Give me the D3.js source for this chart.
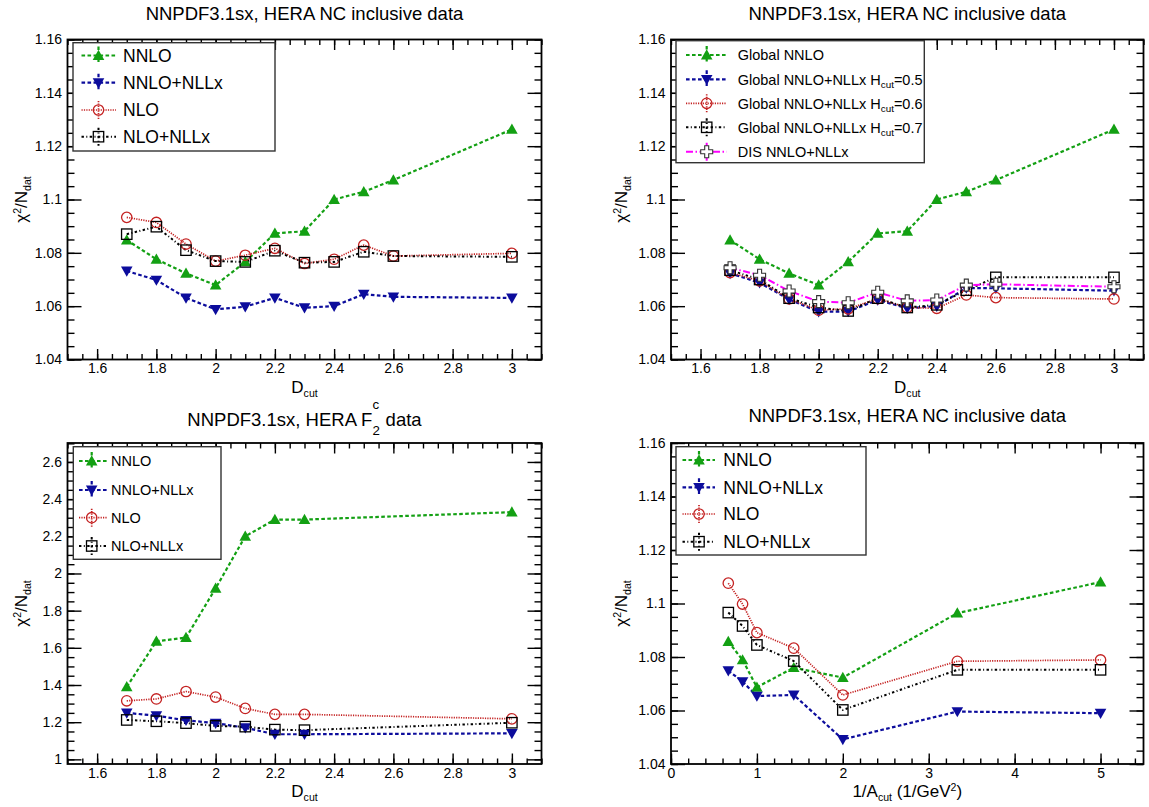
<!DOCTYPE html>
<html><head><meta charset="utf-8">
<script src="https://cdn.jsdelivr.net/npm/d3@7"></script>
<style>
body{margin:0;background:#fff}
svg{display:block}
text{font-family:"Liberation Sans",Arial,Helvetica,sans-serif;fill:#000}
</style>
</head><body>
<svg id="c" width="1149" height="807"></svg>
<script>
// ---------------- DATA ----------------
const dcut = [1.7, 1.8, 1.9, 2.0, 2.1, 2.2, 2.3, 2.4, 2.5, 2.6, 3.0];
// Panel 1: HERA NC inclusive
const ncNNLO     = [1.0848, 1.0776, 1.0723, 1.0679, 1.0766, 1.0873, 1.0881, 1.1000, 1.1029, 1.1073, 1.1263];
const ncNNLONLLx = [1.0732, 1.0698, 1.0631, 1.0588, 1.0598, 1.0631, 1.0594, 1.0600, 1.0645, 1.0635, 1.0631];
const ncNLO      = [1.0933, 1.0914, 1.0833, 1.0769, 1.0791, 1.0817, 1.0760, 1.0776, 1.0829, 1.0788, 1.0798];
const ncNLONLLx  = [1.0870, 1.0898, 1.0810, 1.0769, 1.0766, 1.0808, 1.0763, 1.0766, 1.0804, 1.0788, 1.0785];
// Panel 2: global fits
const globNNLO   = [1.0848, 1.0776, 1.0723, 1.0679, 1.0766, 1.0873, 1.0881, 1.1000, 1.1029, 1.1073, 1.1263];
const globH05    = [1.0723, 1.0688, 1.0625, 1.0579, 1.0580, 1.0623, 1.0592, 1.0600, 1.0668, 1.0667, 1.0658];
const globH06    = [1.0726, 1.0695, 1.0627, 1.0585, 1.0590, 1.0628, 1.0595, 1.0592, 1.0642, 1.0632, 1.0627];
const globH07    = [1.0735, 1.0700, 1.0630, 1.0595, 1.0582, 1.0630, 1.0595, 1.0605, 1.0660, 1.0708, 1.0708];
const disNNLONLLx= [1.0744, 1.0716, 1.0657, 1.0617, 1.0613, 1.0652, 1.0620, 1.0623, 1.0679, 1.0682, 1.0673];
// Panel 3: HERA F2c
const dcutCharm  = [1.7, 1.8, 1.9, 2.0, 2.1, 2.2, 2.3, 3.0];
const f2cNNLO    = [1.39, 1.635, 1.655, 1.92, 2.20, 2.29, 2.29, 2.33];
const f2cNNLONLLx= [1.25, 1.235, 1.21, 1.195, 1.17, 1.135, 1.135, 1.14];
const f2cNLO     = [1.315, 1.325, 1.365, 1.335, 1.274, 1.242, 1.242, 1.218];
const f2cNLONLLx = [1.212, 1.205, 1.195, 1.18, 1.176, 1.16, 1.157, 1.197];
// Panel 4: 1/A_cut
const invAcut    = [0.667, 0.833, 1.0, 1.429, 2.0, 3.333, 5.0];
const aNNLO      = [1.0858, 1.0789, 1.0687, 1.0760, 1.0723, 1.0964, 1.1080];
const aNNLONLLx  = [1.0749, 1.0708, 1.0654, 1.0658, 1.0492, 1.0596, 1.0590];
const aNLO       = [1.1076, 1.0998, 1.0891, 1.0833, 1.0658, 1.0784, 1.0789];
const aNLONLLx   = [1.0966, 1.0916, 1.0845, 1.0785, 1.0602, 1.0752, 1.0752];

// Tick values and labels
const ticksChi       = [1.04, 1.06, 1.08, 1.1, 1.12, 1.14, 1.16];
const labelsChi      = ["1.04", "1.06", "1.08", "1.1", "1.12", "1.14", "1.16"];
const ticksChiCharm  = [1, 1.2, 1.4, 1.6, 1.8, 2, 2.2, 2.4, 2.6];
const labelsChiCharm = ["1", "1.2", "1.4", "1.6", "1.8", "2", "2.2", "2.4", "2.6"];
const ticksDcut      = [1.6, 1.8, 2, 2.2, 2.4, 2.6, 2.8, 3];
const labelsDcut     = ["1.6", "1.8", "2", "2.2", "2.4", "2.6", "2.8", "3"];
const ticksInvA      = [0, 1, 2, 3, 4, 5];
const labelsInvA     = ["0", "1", "2", "3", "4", "5"];

// ---------------- STYLES ----------------
const STY = {
  nnlo:     {color: "#13a013", dash: "3.6,2.4", w: 2.2, marker: "triUp"},
  nnloNLLx: {color: "#0c0c9c", dash: "3.6,2.4", w: 2.2, marker: "triDown"},
  nlo:      {color: "#c42222", dash: "1.2,1.2", w: 1.7, marker: "circle"},
  nloNLLx:  {color: "#000000", dash: "2.4,2.4,1,2.4", w: 2, marker: "square"},
  dis:      {color: "#ff00ff", dash: "7,2.5,1.5,2.5", w: 2, marker: "cross", mcolor: "#333"}
};

const svg = d3.select("#c");

function rich(text, parts, fs) {
  let off = 0;
  parts.forEach(p => {
    let target = 0, size = fs;
    if (p.sub) { target = p.y !== undefined ? p.y : 0.25 * fs; size = (p.scale || 0.62) * fs; }
    if (p.sup) { target = p.y !== undefined ? p.y : -0.42 * fs; size = (p.scale || 0.62) * fs; }
    const ts = text.append("tspan").text(p.t);
    if (target - off !== 0) ts.attr("dy", target - off);
    if (size !== fs) ts.attr("font-size", size);
    if (p.dx !== undefined) ts.attr("dx", p.dx);
    off = target;
  });
}

function marker(g, type, cx, cy, color) {
  if (type === "triUp") {
    g.append("path").attr("d", `M${cx-5.8},${cy+4.4}L${cx+5.8},${cy+4.4}L${cx},${cy-5.8}Z`).attr("fill", color);
  } else if (type === "triDown") {
    g.append("path").attr("d", `M${cx-5.8},${cy-4.4}L${cx+5.8},${cy-4.4}L${cx},${cy+5.8}Z`).attr("fill", color);
  } else if (type === "circle") {
    g.append("circle").attr("cx", cx).attr("cy", cy).attr("r", 5.2).attr("fill", "none").attr("stroke", color).attr("stroke-width", 1.3);
  } else if (type === "square") {
    g.append("rect").attr("x", cx-5.2).attr("y", cy-5.2).attr("width", 10.4).attr("height", 10.4).attr("fill", "none").attr("stroke", color).attr("stroke-width", 1.3);
  } else if (type === "cross") {
    const a = 2, e = 6;
    g.append("path").attr("d",
      `M${cx-a},${cy-e}L${cx+a},${cy-e}L${cx+a},${cy-a}L${cx+e},${cy-a}L${cx+e},${cy+a}L${cx+a},${cy+a}L${cx+a},${cy+e}L${cx-a},${cy+e}L${cx-a},${cy+a}L${cx-e},${cy+a}L${cx-e},${cy-a}L${cx-a},${cy-a}Z`)
      .attr("fill", "#fff").attr("stroke", color).attr("stroke-width", 1.1);
  }
}

function minorTicks(dom, step) {
  const lo = Math.ceil(dom[0] / step - 1e-9), hi = Math.floor(dom[1] / step + 1e-9);
  return d3.range(lo, hi + 1).map(k => +(k * step).toFixed(6));
}

function styleAxis(sel) {
  sel.select(".domain").remove();
  sel.selectAll(".tick line").attr("stroke", "#000").attr("stroke-width", 1.4);
  sel.selectAll(".tick text").attr("font-size", 14).attr("fill", "#000")
     .attr("font-family", "Liberation Sans, Arial, sans-serif");
}

function drawPanel(c) {
  const x = d3.scaleLinear().domain(c.xDomain).range([c.x0, c.x1]);
  const y = d3.scaleLinear().domain(c.yDomain).range([c.y1, c.y0]);
  const g = svg.append("g");

  const xMin = minorTicks(c.xDomain, c.xMinor), yMin = minorTicks(c.yDomain, c.yMinor);
  const XM = 10.5, Xm = 5.5, YM = 14, Ym = 7;
  // bottom
  g.append("g").attr("transform", `translate(0,${c.y1})`)
    .call(d3.axisBottom(x).tickValues(xMin).tickSize(-Xm).tickFormat(() => "")).call(styleAxis);
  g.append("g").attr("transform", `translate(0,${c.y1})`)
    .call(d3.axisBottom(x).tickValues(c.xTicks).tickSize(-XM).tickPadding(4)
      .tickFormat((d, i) => c.xLabels[i])).call(styleAxis);
  // top
  g.append("g").attr("transform", `translate(0,${c.y0})`)
    .call(d3.axisTop(x).tickValues(xMin).tickSize(-Xm).tickFormat(() => "")).call(styleAxis);
  g.append("g").attr("transform", `translate(0,${c.y0})`)
    .call(d3.axisTop(x).tickValues(c.xTicks).tickSize(-XM).tickFormat(() => "")).call(styleAxis);
  // left
  g.append("g").attr("transform", `translate(${c.x0},0)`)
    .call(d3.axisLeft(y).tickValues(yMin).tickSize(-Ym).tickFormat(() => "")).call(styleAxis);
  g.append("g").attr("transform", `translate(${c.x0},0)`)
    .call(d3.axisLeft(y).tickValues(c.yTicks).tickSize(-YM).tickPadding(5.5)
      .tickFormat((d, i) => c.yLabels[i])).call(styleAxis);
  // right
  g.append("g").attr("transform", `translate(${c.x1},0)`)
    .call(d3.axisRight(y).tickValues(yMin).tickSize(-Ym).tickFormat(() => "")).call(styleAxis);
  g.append("g").attr("transform", `translate(${c.x1},0)`)
    .call(d3.axisRight(y).tickValues(c.yTicks).tickSize(-YM).tickFormat(() => "")).call(styleAxis);

  // frame
  g.append("rect").attr("x", c.x0).attr("y", c.y0).attr("width", c.x1 - c.x0).attr("height", c.y1 - c.y0)
    .attr("fill", "none").attr("stroke", "#000").attr("stroke-width", 1.8);

  // series lines
  const line = d3.line().x(d => x(d[0])).y(d => y(d[1]));
  c.series.forEach(s => {
    const st = STY[s.style];
    const pts = s.x.map((v, i) => [v, s.y[i]]);
    g.append("path").attr("d", line(pts)).attr("fill", "none").attr("stroke", st.color)
      .attr("stroke-width", st.w).attr("stroke-dasharray", st.dash);
  });
  c.series.forEach(s => {
    const st = STY[s.style];
    s.x.forEach((v, i) => marker(g, st.marker, x(v), y(s.y[i]), st.mcolor || st.color));
  });

  // legend
  const L = c.legend;
  g.append("rect").attr("x", L.x0).attr("y", L.y0).attr("width", L.x1 - L.x0).attr("height", L.y1 - L.y0)
    .attr("fill", "#fff").attr("stroke", "#333").attr("stroke-width", 1.4);
  c.series.forEach((s, i) => {
    const st = STY[s.style];
    const ey = L.rows[i];
    g.append("line").attr("x1", L.lx0).attr("x2", L.lx1).attr("y1", ey).attr("y2", ey)
      .attr("stroke", st.color).attr("stroke-width", st.w).attr("stroke-dasharray", st.dash);
    g.append("line").attr("x1", L.mx).attr("x2", L.mx).attr("y1", ey - 9).attr("y2", ey + 9)
      .attr("stroke", st.color).attr("stroke-width", st.w).attr("stroke-dasharray", st.dash);
    marker(g, st.marker, L.mx, ey, st.mcolor || st.color);
    const t = g.append("text").attr("x", L.tx).attr("y", ey + 0.36 * L.fs).attr("font-size", L.fs);
    rich(t, s.label, L.fs);
  });

  // title
  const tt = svg.append("text").attr("x", (c.x0 + c.x1) / 2).attr("y", c.titleY)
    .attr("text-anchor", "middle").attr("font-size", 18.5);
  rich(tt, c.title, 18.5);
  // x title
  const xt = svg.append("text").attr("x", (c.x0 + c.x1) / 2).attr("y", c.xTitleY)
    .attr("text-anchor", "middle").attr("font-size", 17);
  rich(xt, c.xTitle, 17);
  // y title
  const yt = svg.append("text").attr("transform", `translate(${c.yTitleX},${(c.y0 + c.y1) / 2}) rotate(-90)`)
    .attr("text-anchor", "middle").attr("font-size", 17);
  rich(yt, [{t: "χ"}, {t: "2", sup: true, y: -6.5}, {t: "/N"}, {t: "dat", sub: true, y: 4}], 17);
}

const lab = s => [{t: s}];
const hLab = v => [{t: "Global NNLO+NLLx H"}, {t: "cut", sub: true, y: 3.5, scale: 0.68}, {t: "=" + v}];
const ncTitle = [{t: "NNPDF3.1sx, HERA NC inclusive data"}];
const dTitle = [{t: "D"}, {t: "cut", sub: true, y: 4}];

const panels = [
  {
    x0: 67.5, x1: 541.5, y0: 39.5, y1: 359.5,
    xDomain: [1.5, 3.1], yDomain: [1.04, 1.16],
    xTicks: ticksDcut, xLabels: labelsDcut, xMinor: 0.05,
    yTicks: ticksChi, yLabels: labelsChi, yMinor: 0.005,
    title: ncTitle, titleY: 20, xTitle: dTitle, xTitleY: 392.5, yTitleX: 27,
    series: [
      {x: dcut, y: ncNNLO, style: "nnlo", label: lab("NNLO")},
      {x: dcut, y: ncNNLONLLx, style: "nnloNLLx", label: lab("NNLO+NLLx")},
      {x: dcut, y: ncNLO, style: "nlo", label: lab("NLO")},
      {x: dcut, y: ncNLONLLx, style: "nloNLLx", label: lab("NLO+NLLx")}
    ],
    legend: {x0: 73, x1: 275, y0: 42.7, y1: 151, lx0: 81.5, lx1: 116, mx: 98.5, tx: 123, fs: 17.5,
             rows: [55.5, 82.7, 110, 136.7]}
  },
  {
    x0: 671, x1: 1143.5, y0: 39.5, y1: 359.5,
    xDomain: [1.5, 3.1], yDomain: [1.04, 1.16],
    xTicks: ticksDcut, xLabels: labelsDcut, xMinor: 0.05,
    yTicks: ticksChi, yLabels: labelsChi, yMinor: 0.005,
    title: ncTitle, titleY: 20, xTitle: dTitle, xTitleY: 392.5, yTitleX: 627,
    series: [
      {x: dcut, y: globNNLO, style: "nnlo", label: lab("Global NNLO")},
      {x: dcut, y: globH05, style: "nnloNLLx", label: hLab("0.5")},
      {x: dcut, y: globH06, style: "nlo", label: hLab("0.6")},
      {x: dcut, y: globH07, style: "nloNLLx", label: hLab("0.7")},
      {x: dcut, y: disNNLONLLx, style: "dis", label: lab("DIS NNLO+NLLx")}
    ],
    legend: {x0: 676, x1: 924.3, y0: 40.7, y1: 162.7, lx0: 686, lx1: 726.7, mx: 706.7, tx: 737.7, fs: 14.5,
             rows: [55, 79.3, 103.3, 127.3, 151.7]}
  },
  {
    x0: 67.5, x1: 541.5, y0: 443, y1: 764,
    xDomain: [1.5, 3.1], yDomain: [0.975, 2.702],
    xTicks: ticksDcut, xLabels: labelsDcut, xMinor: 0.05,
    yTicks: ticksChiCharm, yLabels: labelsChiCharm, yMinor: 0.05,
    title: [{t: "NNPDF3.1sx, HERA F"}, {t: "c", sup: true, y: -17, scale: 0.72}, {t: "2", sub: true, y: 9, scale: 0.72, dx: -6.6}, {t: " data", dx: 0.6}],
    titleY: 426, xTitle: dTitle, xTitleY: 797, yTitleX: 27,
    series: [
      {x: dcutCharm, y: f2cNNLO, style: "nnlo", label: lab("NNLO")},
      {x: dcutCharm, y: f2cNNLONLLx, style: "nnloNLLx", label: lab("NNLO+NLLx")},
      {x: dcutCharm, y: f2cNLO, style: "nlo", label: lab("NLO")},
      {x: dcutCharm, y: f2cNLONLLx, style: "nloNLLx", label: lab("NLO+NLLx")}
    ],
    legend: {x0: 73.3, x1: 221, y0: 446.7, y1: 559.3, lx0: 79, lx1: 106.7, mx: 91.7, tx: 111, fs: 14.5,
             rows: [461, 490, 517.7, 546]}
  },
  {
    x0: 671, x1: 1143.5, y0: 443, y1: 764,
    xDomain: [0, 5.5], yDomain: [1.04, 1.16],
    xTicks: ticksInvA, xLabels: labelsInvA, xMinor: 0.2,
    yTicks: ticksChi, yLabels: labelsChi, yMinor: 0.005,
    title: ncTitle, titleY: 422,
    xTitle: [{t: "1/A"}, {t: "cut", sub: true, y: 4}, {t: " (1/GeV"}, {t: "2", sup: true, y: -6.5}, {t: ")"}],
    xTitleY: 797, yTitleX: 627,
    series: [
      {x: invAcut, y: aNNLO, style: "nnlo", label: lab("NNLO")},
      {x: invAcut, y: aNNLONLLx, style: "nnloNLLx", label: lab("NNLO+NLLx")},
      {x: invAcut, y: aNLO, style: "nlo", label: lab("NLO")},
      {x: invAcut, y: aNLONLLx, style: "nloNLLx", label: lab("NLO+NLLx")}
    ],
    legend: {x0: 676, x1: 866, y0: 446.7, y1: 555, lx0: 682.5, lx1: 715, mx: 699, tx: 723.3, fs: 17.5,
             rows: [460, 487.3, 514, 541.7]}
  }
];

panels.forEach(drawPanel);
</script>
</body></html>
